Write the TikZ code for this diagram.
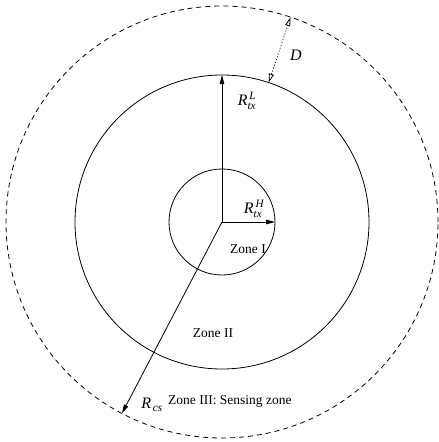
\documentclass[tikz,border=0pt]{standalone}
\usepackage{fontspec}
\usepackage{amsmath}
\setmainfont{Liberation Serif}
\usetikzlibrary{arrows.meta,calc}
\begin{document}
\begin{tikzpicture}[x=1pt,y=-1pt,
  circ/.style={line width=0.8pt},
  dashcirc/.style={line width=0.8pt, dash pattern=on 5pt off 4pt},
  radarrow/.style={line width=0.8pt, -{Triangle[length=9pt,width=4.5pt]}},
  dline/.style={line width=0.8pt, dash pattern=on 1pt off 2pt,
    {Triangle[open,length=9pt,width=5pt]}-{Triangle[open,length=9pt,width=5pt]}},
  lbl/.style={font=\fontsize{13.5}{16}\selectfont, inner sep=0pt},
  rlbl/.style={font=\fontsize{16}{19}\selectfont, inner sep=0pt}
]
\useasboundingbox[fill=white] (0,0) rectangle (439,442);
\coordinate (c) at (222,222);
\draw[dashcirc] (c) circle[radius=216pt];
\draw[circ] (c) circle[radius=147pt];
\draw[circ] (c) circle[radius=53pt];
\coordinate (tL) at ($(c)+(90:147pt)$);
\coordinate (tH) at ($(c)+(0:53pt)$);
\coordinate (tcs) at ($(c)+(242.4:216pt)$);
\coordinate (dT) at ($(c)+(71.5:216pt)$);
\coordinate (dB) at ($(c)+(71.5:147pt)$);
\draw[radarrow] (c) -- (tL);
\draw[radarrow] (c) -- (tH);
\draw[radarrow] (c) -- (tcs);
\draw[dline] (dB) -- (dT);
\node[rlbl] (lD) at (296,55) {\textit{D}};
\node[rlbl] (lL) at (247,101) {$\textit{R}^{\,\textit{L}}_{\textit{tx}}$};
\node[rlbl] (lH) at (254,209) {$\textit{R}^{\,\textit{H}}_{\textit{tx}}$};
\node[rlbl] (lcs) at (152,405) {$\textit{R}_{\,\textit{cs}}$};
\node[lbl] (z1) at (248,249) {Zone I};
\node[lbl] (z2) at (213,333) {Zone II};
\node[lbl,anchor=base west] (z3) at (168,404) {Zone III: Sensing zone};
\end{tikzpicture}
\end{document}
